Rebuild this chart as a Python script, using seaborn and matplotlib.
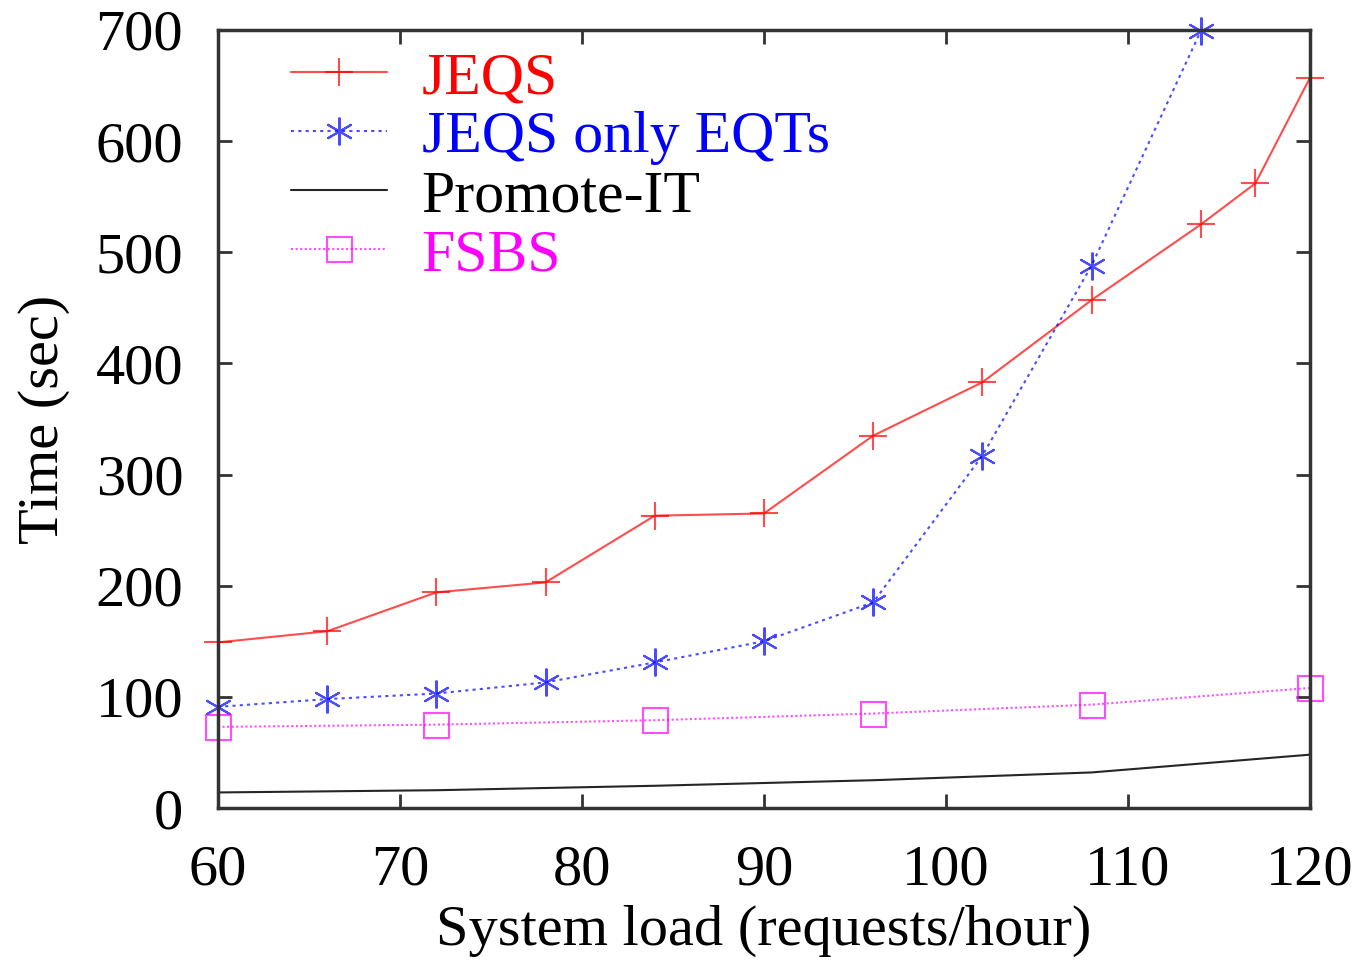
import matplotlib
matplotlib.use('Agg')
import matplotlib.pyplot as plt
import pandas as pd
import seaborn as sns

# Werte
load_jeqs = [60, 66, 72, 78, 84, 90, 96, 102, 108, 114, 117, 120]
time_jeqs = [149, 159, 194, 203, 263, 265, 335, 383, 457, 525, 562, 657]

load_eqt = [60, 66, 72, 78, 84, 90, 96, 102, 108, 114]
time_eqt = [91, 98, 103, 113, 131, 150, 185, 317, 488, 699]

load_promote = [60, 72, 84, 96, 108, 120]
time_promote = [14, 16, 20, 25, 32, 48]

load_fsbs = [60, 72, 84, 96, 108, 120]
time_fsbs = [73, 75, 79, 85, 93, 108]

labels = ['JEQS', 'JEQS only EQTs', 'Promote-IT', 'FSBS']
colors = ['#ff0000', '#0000ff', '#000000', '#ff00ff']

sns.set_style('ticks')
plt.rcParams['font.family'] = ['Liberation Serif', 'DejaVu Serif']

fig = plt.figure(figsize=(13.62, 9.61), dpi=100)
ax = fig.add_axes([0.16, 0.1592, 0.8018, 0.8096])

series = [
    (load_jeqs, time_jeqs, dict(marker='+', markersize=20, markeredgewidth=1.5, linestyle='-')),
    (load_eqt, time_eqt, dict(marker=(6, 2, 0), markersize=20, markeredgewidth=1.5, linestyle=(0, (1.5, 2.0)))),
    (load_promote, time_promote, dict(linestyle='-')),
    (load_fsbs, time_fsbs, dict(marker='s', markersize=18, markerfacecolor='none', markeredgewidth=1.5,
                                linestyle=(0, (1, 1.2)))),
]
for (xs, ys, style), lab, col in zip(series, labels, colors):
    df = pd.DataFrame({'load': xs, 'time': ys})
    sns.lineplot(data=df, x='load', y='time', ax=ax, color=col, label=lab, linewidth=1.5,
                 markeredgecolor=col, alpha=0.7 if col != '#000000' else 0.85, clip_on=False, **style)

ax.set_xlim(60, 120)
ax.set_ylim(0, 700)
ax.set_xticks(range(60, 121, 10))
ax.set_yticks(range(0, 701, 100))
ax.tick_params(direction='in', length=10, width=2, labelsize=42, top=True, right=True,
               colors='black', color='#333333')
ax.tick_params(axis='x', pad=26)
ax.tick_params(axis='y', pad=25)
for s in ax.spines.values():
    s.set_linewidth(2.5)
    s.set_color('#333333')

ax.set_xlabel('System load (requests/hour)', fontsize=42, labelpad=6, color='black')
ax.set_ylabel('Time (sec)', fontsize=42, labelpad=18, color='black')

leg = ax.legend(loc='upper left', bbox_to_anchor=(0.04, 1.011), frameon=False, fontsize=43,
                labelspacing=0.07, handlelength=1.6, handletextpad=0.58, borderaxespad=0.1)
for txt, col in zip(leg.get_texts(), colors):
    txt.set_color(col)

fig.savefig('out.png', dpi=100)
